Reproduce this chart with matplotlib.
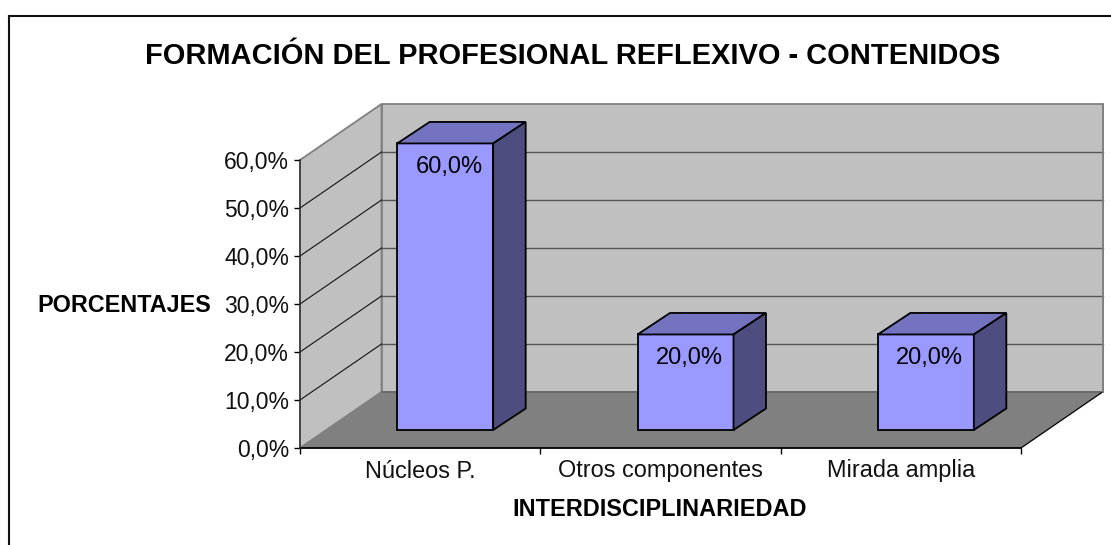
import matplotlib
matplotlib.use("Agg")
import matplotlib.pyplot as plt
from matplotlib.patches import Polygon
from matplotlib.lines import Line2D

plt.rcParams['font.family'] = ['Liberation Sans', 'DejaVu Sans']

categories = ["Núcleos P.", "Otros componentes", "Mirada amplia"]
values = [60.0, 20.0, 20.0]
y_ticks = [0, 10, 20, 30, 40, 50, 60]
title = "FORMACIÓN DEL PROFESIONAL REFLEXIVO - CONTENIDOS"
xlabel = "INTERDISCIPLINARIEDAD"
ylabel = "PORCENTAJES"

W, H = 1111, 545
fig = plt.figure(figsize=(W / 100, H / 100), dpi=100, facecolor="white")

# pixel rectangle of the front plane of the 3-D box
L, R, T, B = 300.0, 1021.0, 160.0, 448.0
ax = fig.add_axes([L / W, 1 - B / H, (R - L) / W, (B - T) / H])
ax.set_xlim(0, len(categories))
ax.set_ylim(0, 60)
ax.patch.set_visible(False)
for s in ax.spines.values():
    s.set_visible(False)

ux = len(categories) / (R - L)   # data units per pixel
uy = 60 / (B - T)
ddx, ddy = 81.5 * ux, 56 * uy    # depth of the box
xmax, ymax = len(categories), 60

def poly(pts, fc, ec, lw, z):
    ax.add_patch(Polygon(pts, closed=True, fc=fc, ec=ec, lw=lw, zorder=z,
                         clip_on=False, joinstyle="miter"))

wall, floor, edge = "#C0C0C0", "#808080", "#808080"
poly([(0, 0), (ddx, ddy), (ddx, ymax + ddy), (0, ymax)], wall, edge, 1.3, 1)
poly([(ddx, ddy), (xmax + ddx, ddy), (xmax + ddx, ymax + ddy), (ddx, ymax + ddy)], wall, edge, 1.3, 1)
poly([(0, 0), (ddx, ddy), (xmax + ddx, ddy), (xmax, 0)], floor, "none", 0, 2)

for t in y_ticks[1:-1]:
    ax.plot([0, ddx], [t, t + ddy], color="#111111", lw=0.8, zorder=3, clip_on=False)
    ax.plot([ddx, xmax + ddx], [t + ddy, t + ddy], color="#555555", lw=1.0, zorder=3, clip_on=False)
ax.plot([ddx, xmax + ddx], [ddy, ddy], color="#666666", lw=1.2, zorder=3, clip_on=False)
ax.plot([xmax, xmax + ddx], [0, ddy], color="black", lw=0.9, zorder=3, clip_on=False)
ax.plot([xmax + ddx, xmax + ddx], [ddy, ymax + ddy], color="#808080", lw=1.3, zorder=3, clip_on=False)

# bars
off_x, off_y = 25 * ux, 18 * uy
bw = 96 * ux
bdx, bdy = 32.5 * ux, 21.5 * uy
for i, v in enumerate(values):
    x0 = i + 0.5 + off_x - bw / 2
    x1 = x0 + bw
    y0, y1 = off_y, v * 0.995 + off_y
    poly([(x0, y0), (x1, y0), (x1, y1), (x0, y1)], "#9999FF", "black", 1.3, 5)
    poly([(x0, y1), (x1, y1), (x1 + bdx, y1 + bdy), (x0 + bdx, y1 + bdy)], "#7373BF", "black", 1.3, 5)
    poly([(x1, y0), (x1 + bdx, y0 + bdy), (x1 + bdx, y1 + bdy), (x1, y1)], "#4D4D80", "black", 1.3, 5)
    ax.annotate(f"{v:.1f}%".replace(".", ","), xy=((x0 + x1) / 2, y1), xytext=(4, -23.5),
                textcoords="offset pixels", ha="center", va="center", fontsize=17,
                color="black", zorder=6, annotation_clip=False)

# axes lines and ticks
ax.plot([0, xmax], [0, 0], color="black", lw=1.3, zorder=4, clip_on=False)
ax.plot([0, 0], [0, ymax], color="#333333", lw=1.1, zorder=4, clip_on=False)
ax.set_yticks(y_ticks)
ax.set_yticklabels([f"{t:.1f}%".replace(".", ",") for t in y_ticks], fontsize=16.5, color="#111111")
ax.set_xticks(range(len(categories) + 1))
ax.set_xticklabels([])
ax.tick_params(axis="y", length=4.5, width=1, color="black", pad=3.5)
ax.tick_params(axis="x", length=4, width=1, color="black")
for i, c in enumerate(categories):
    ax.annotate(c, xy=(i + 0.5, 0), xytext=(0, -23), textcoords="offset pixels",
                ha="center", va="center", fontsize=16.9, color="#111111", annotation_clip=False)

# outer chart frame, cut by the image edge
frame = dict(color="#111111", lw=1.5, transform=fig.transFigure)
fig.add_artist(Line2D([9 / W, 1], [1 - 16 / H, 1 - 16 / H], **frame))
fig.add_artist(Line2D([9 / W, 9 / W], [1 - 16 / H, 0], **frame))

fig.text(573 / W, 1 - 55.5 / H, title, ha="center", va="center", fontsize=20.85,
         fontweight="bold", color="black")
fig.text(659.5 / W, 1 - 510 / H, xlabel, ha="center", va="center", fontsize=16.9,
         fontweight="bold", color="black")
fig.text(124.5 / W, 1 - 305 / H, ylabel, ha="center", va="center", fontsize=16.8,
         fontweight="bold", color="black")

fig.savefig("out.png", dpi=100, facecolor="white")
